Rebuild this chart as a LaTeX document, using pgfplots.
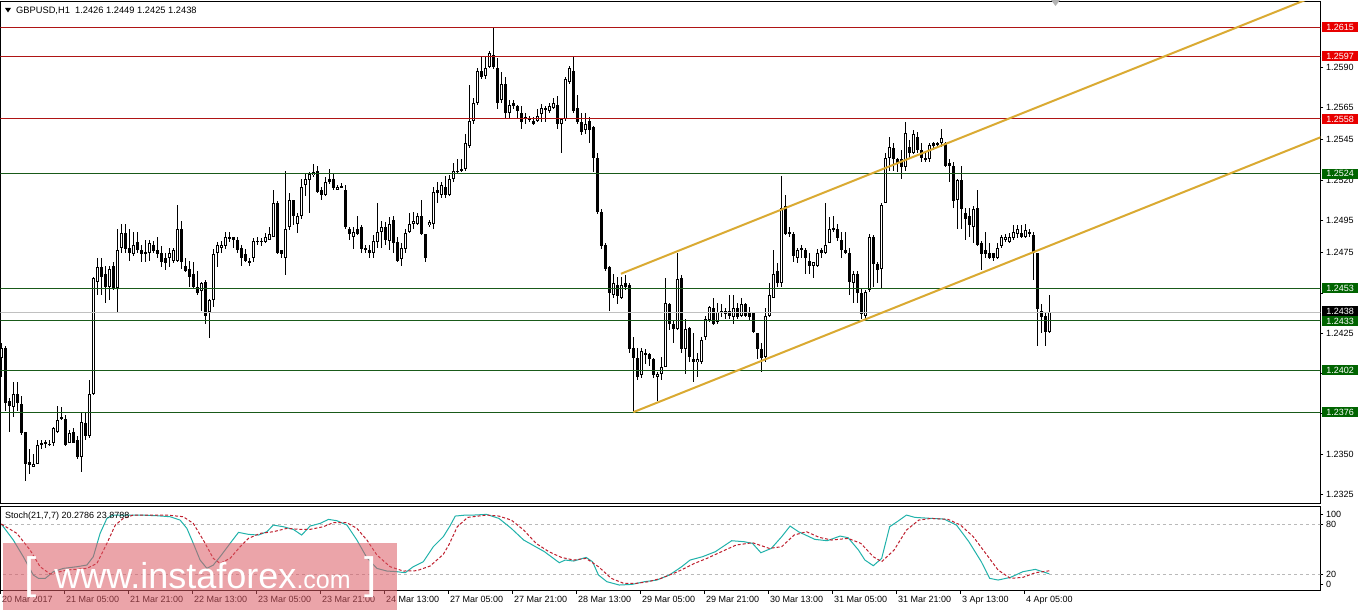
\documentclass[border=0pt]{standalone}
\usepackage{pgfplots}
\pgfplotsset{compat=1.18}
\usepackage{pgfplotstable}
\usepackage{fontspec}
\setmainfont{Liberation Sans}
\definecolor{lvred}{RGB}{175,20,20}
\definecolor{boxred}{RGB}{232,0,0}
\definecolor{lvgreen}{RGB}{25,90,25}
\definecolor{boxgreen}{RGB}{0,100,0}
\definecolor{chan}{RGB}{218,170,50}
\definecolor{stk}{RGB}{32,178,170}
\definecolor{std}{RGB}{190,30,45}
\definecolor{wm}{RGB}{220,90,100}
\definecolor{curline}{RGB}{192,192,192}

\pgfplotstableread{
i o h l c
0 1.2410 1.2419 1.2398 1.2416
1 1.2416 1.2417 1.2377 1.2382
2 1.2383 1.2385 1.2364 1.2380
3 1.2379 1.2395 1.2373 1.2387
4 1.2387 1.2395 1.2377 1.2382
5 1.2381 1.2386 1.2362 1.2363
6 1.2364 1.2364 1.2333 1.2344
7 1.2345 1.2353 1.2338 1.2343
8 1.2342 1.2350 1.2342 1.2344
9 1.2344 1.2359 1.2344 1.2356
10 1.2356 1.2359 1.2353 1.2357
11 1.2357 1.2359 1.2354 1.2357
12 1.2356 1.2359 1.2355 1.2356
13 1.2357 1.2367 1.2355 1.2366
14 1.2364 1.2380 1.2363 1.2371
15 1.2372 1.2379 1.2371 1.2373
16 1.2372 1.2374 1.2355 1.2356
17 1.2357 1.2365 1.2357 1.2363
18 1.2364 1.2366 1.2357 1.2357
19 1.2359 1.2361 1.2347 1.2348
20 1.2348 1.2376 1.2339 1.2370
21 1.2369 1.2376 1.2359 1.2361
22 1.2361 1.2396 1.2360 1.2387
23 1.2387 1.2460 1.2387 1.2459
24 1.2457 1.2472 1.2449 1.2466
25 1.2466 1.2472 1.2449 1.2460
26 1.2462 1.2467 1.2444 1.2454
27 1.2454 1.2467 1.2446 1.2465
28 1.2467 1.2469 1.2452 1.2453
29 1.2453 1.2490 1.2438 1.2477
30 1.2478 1.2493 1.2475 1.2487
31 1.2487 1.2493 1.2475 1.2477
32 1.2478 1.2490 1.2470 1.2475
33 1.2474 1.2488 1.2473 1.2480
34 1.2482 1.2488 1.2475 1.2477
35 1.2477 1.2480 1.2469 1.2474
36 1.2475 1.2483 1.2469 1.2475
37 1.2475 1.2483 1.2470 1.2481
38 1.2480 1.2482 1.2475 1.2476
39 1.2477 1.2485 1.2472 1.2474
40 1.2475 1.2479 1.2466 1.2469
41 1.2472 1.2475 1.2464 1.2469
42 1.2472 1.2478 1.2466 1.2475
43 1.2470 1.2478 1.2469 1.2477
44 1.2470 1.2505 1.2469 1.2490
45 1.2490 1.2495 1.2465 1.2469
46 1.2467 1.2472 1.2463 1.2464
47 1.2465 1.2470 1.2454 1.2460
48 1.2462 1.2469 1.2453 1.2454
49 1.2454 1.2464 1.2449 1.2450
50 1.2451 1.2457 1.2439 1.2456
51 1.2457 1.2458 1.2431 1.2436
52 1.2438 1.2446 1.2422 1.2446
53 1.2446 1.2477 1.2441 1.2474
54 1.2475 1.2482 1.2466 1.2480
55 1.2478 1.2482 1.2475 1.2480
56 1.2479 1.2488 1.2477 1.2485
57 1.2484 1.2488 1.2482 1.2485
58 1.2485 1.2485 1.2478 1.2483
59 1.2483 1.2485 1.2475 1.2477
60 1.2478 1.2480 1.2467 1.2472
61 1.2474 1.2477 1.2469 1.2470
62 1.2469 1.2472 1.2467 1.2470
63 1.2472 1.2484 1.2469 1.2482
64 1.2482 1.2485 1.2480 1.2482
65 1.2482 1.2484 1.2479 1.2482
66 1.2482 1.2487 1.2481 1.2485
67 1.2483 1.2491 1.2483 1.2487
68 1.2485 1.2514 1.2485 1.2506
69 1.2506 1.2507 1.2474 1.2475
70 1.2477 1.2477 1.2472 1.2474
71 1.2472 1.2526 1.2461 1.2490
72 1.2491 1.2512 1.2489 1.2508
73 1.2508 1.2508 1.2492 1.2498
74 1.2493 1.2500 1.2487 1.2498
75 1.2498 1.2521 1.2496 1.2516
76 1.2517 1.2524 1.2510 1.2521
77 1.2520 1.2525 1.2500 1.2524
78 1.2523 1.2530 1.2522 1.2525
79 1.2526 1.2529 1.2512 1.2513
80 1.2514 1.2516 1.2508 1.2511
81 1.2511 1.2522 1.2510 1.2519
82 1.2521 1.2527 1.2518 1.2519
83 1.2521 1.2524 1.2514 1.2515
84 1.2514 1.2517 1.2514 1.2516
85 1.2516 1.2518 1.2515 1.2516
86 1.2514 1.2517 1.2490 1.2491
87 1.2490 1.2491 1.2483 1.2487
88 1.2485 1.2491 1.2477 1.2488
89 1.2490 1.2498 1.2486 1.2487
90 1.2491 1.2492 1.2475 1.2477
91 1.2477 1.2480 1.2475 1.2478
92 1.2477 1.2480 1.2472 1.2475
93 1.2475 1.2486 1.2472 1.2482
94 1.2482 1.2506 1.2478 1.2488
95 1.2488 1.2495 1.2478 1.2491
96 1.2491 1.2494 1.2480 1.2483
97 1.2482 1.2497 1.2477 1.2493
98 1.2495 1.2498 1.2475 1.2481
99 1.2482 1.2485 1.2469 1.2470
100 1.2471 1.2481 1.2467 1.2478
101 1.2477 1.2490 1.2475 1.2487
102 1.2488 1.2500 1.2487 1.2493
103 1.2493 1.2500 1.2490 1.2495
104 1.2493 1.2500 1.2492 1.2498
105 1.2498 1.2508 1.2486 1.2487
106 1.2487 1.2487 1.2469 1.2472
107 1.2492 1.2495 1.2491 1.2494
108 1.2493 1.2516 1.2490 1.2513
109 1.2514 1.2519 1.2506 1.2512
110 1.2511 1.2519 1.2509 1.2517
111 1.2516 1.2523 1.2509 1.2511
112 1.2511 1.2523 1.2510 1.2521
113 1.2521 1.2531 1.2519 1.2526
114 1.2525 1.2533 1.2524 1.2526
115 1.2526 1.2533 1.2525 1.2527
116 1.2527 1.2549 1.2526 1.2543
117 1.2541 1.2579 1.2540 1.2557
118 1.2557 1.2571 1.2555 1.2568
119 1.2568 1.2590 1.2567 1.2588
120 1.2588 1.2597 1.2583 1.2584
121 1.2585 1.2597 1.2583 1.2590
122 1.2590 1.2600 1.2590 1.2599
123 1.2598 1.2615 1.2589 1.2590
124 1.2590 1.2596 1.2564 1.2568
125 1.2570 1.2587 1.2568 1.2580
126 1.2580 1.2584 1.2559 1.2562
127 1.2562 1.2570 1.2559 1.2567
128 1.2568 1.2570 1.2564 1.2566
129 1.2566 1.2567 1.2559 1.2563
130 1.2562 1.2566 1.2552 1.2556
131 1.2559 1.2562 1.2555 1.2559
132 1.2558 1.2560 1.2556 1.2558
133 1.2557 1.2559 1.2554 1.2555
134 1.2557 1.2564 1.2556 1.2560
135 1.2561 1.2567 1.2556 1.2565
136 1.2564 1.2566 1.2556 1.2565
137 1.2563 1.2568 1.2562 1.2566
138 1.2565 1.2571 1.2564 1.2568
139 1.2567 1.2572 1.2552 1.2555
140 1.2555 1.2559 1.2537 1.2558
141 1.2558 1.2584 1.2557 1.2583
142 1.2581 1.2591 1.2580 1.2590
143 1.2588 1.2597 1.2562 1.2563
144 1.2565 1.2573 1.2555 1.2556
145 1.2556 1.2562 1.2548 1.2550
146 1.2551 1.2562 1.2549 1.2555
147 1.2557 1.2559 1.2543 1.2551
148 1.2553 1.2554 1.2525 1.2534
149 1.2534 1.2537 1.2499 1.2500
150 1.2500 1.2502 1.2477 1.2479
151 1.2480 1.2481 1.2464 1.2465
152 1.2466 1.2467 1.2439 1.2450
153 1.2449 1.2462 1.2447 1.2456
154 1.2455 1.2460 1.2443 1.2448
155 1.2447 1.2460 1.2446 1.2455
156 1.2456 1.2461 1.2452 1.2454
157 1.2455 1.2456 1.2413 1.2415
158 1.2416 1.2423 1.2376 1.2410
159 1.2410 1.2416 1.2396 1.2398
160 1.2399 1.2416 1.2397 1.2414
161 1.2413 1.2415 1.2406 1.2412
162 1.2412 1.2413 1.2405 1.2409
163 1.2409 1.2410 1.2397 1.2399
164 1.2398 1.2401 1.2383 1.2400
165 1.2400 1.2410 1.2396 1.2404
166 1.2404 1.2459 1.2404 1.2444
167 1.2443 1.2444 1.2427 1.2431
168 1.2431 1.2433 1.2419 1.2428
169 1.2428 1.2475 1.2427 1.2459
170 1.2459 1.2461 1.2413 1.2415
171 1.2415 1.2434 1.2400 1.2428
172 1.2428 1.2429 1.2407 1.2410
173 1.2409 1.2425 1.2395 1.2407
174 1.2407 1.2413 1.2398 1.2409
175 1.2407 1.2423 1.2406 1.2421
176 1.2423 1.2436 1.2421 1.2434
177 1.2433 1.2442 1.2432 1.2441
178 1.2441 1.2447 1.2430 1.2431
179 1.2432 1.2444 1.2431 1.2438
180 1.2439 1.2443 1.2435 1.2438
181 1.2439 1.2441 1.2434 1.2437
182 1.2439 1.2449 1.2434 1.2436
183 1.2435 1.2449 1.2431 1.2441
184 1.2441 1.2444 1.2434 1.2435
185 1.2436 1.2447 1.2435 1.2443
186 1.2443 1.2444 1.2435 1.2436
187 1.2438 1.2441 1.2433 1.2435
188 1.2438 1.2438 1.2425 1.2426
189 1.2425 1.2425 1.2409 1.2415
190 1.2415 1.2419 1.2401 1.2410
191 1.2410 1.2441 1.2407 1.2436
192 1.2436 1.2456 1.2435 1.2449
193 1.2447 1.2477 1.2447 1.2462
194 1.2464 1.2469 1.2454 1.2456
195 1.2456 1.2523 1.2454 1.2503
196 1.2504 1.2511 1.2486 1.2487
197 1.2488 1.2491 1.2485 1.2487
198 1.2487 1.2488 1.2469 1.2473
199 1.2472 1.2478 1.2469 1.2477
200 1.2477 1.2480 1.2472 1.2478
201 1.2477 1.2478 1.2462 1.2472
202 1.2470 1.2475 1.2462 1.2467
203 1.2467 1.2469 1.2459 1.2469
204 1.2467 1.2477 1.2466 1.2475
205 1.2477 1.2478 1.2472 1.2475
206 1.2475 1.2506 1.2474 1.2480
207 1.2481 1.2497 1.2481 1.2490
208 1.2490 1.2498 1.2488 1.2490
209 1.2490 1.2493 1.2482 1.2484
210 1.2483 1.2488 1.2472 1.2477
211 1.2477 1.2488 1.2474 1.2475
212 1.2475 1.2478 1.2449 1.2457
213 1.2456 1.2464 1.2444 1.2462
214 1.2462 1.2464 1.2444 1.2450
215 1.2450 1.2453 1.2434 1.2437
216 1.2436 1.2452 1.2434 1.2451
217 1.2452 1.2487 1.2451 1.2485
218 1.2485 1.2486 1.2454 1.2468
219 1.2468 1.2469 1.2456 1.2464
220 1.2465 1.2506 1.2453 1.2505
221 1.2506 1.2537 1.2506 1.2534
222 1.2534 1.2547 1.2526 1.2541
223 1.2540 1.2543 1.2526 1.2533
224 1.2533 1.2534 1.2525 1.2531
225 1.2533 1.2539 1.2521 1.2528
226 1.2528 1.2556 1.2526 1.2549
227 1.2541 1.2545 1.2534 1.2537
228 1.2537 1.2551 1.2536 1.2549
229 1.2547 1.2550 1.2537 1.2539
230 1.2539 1.2543 1.2531 1.2534
231 1.2534 1.2538 1.2531 1.2533
232 1.2533 1.2543 1.2531 1.2542
233 1.2543 1.2544 1.2539 1.2541
234 1.2543 1.2544 1.2540 1.2542
235 1.2543 1.2552 1.2541 1.2546
236 1.2543 1.2544 1.2528 1.2529
237 1.2531 1.2533 1.2519 1.2529
238 1.2529 1.2531 1.2503 1.2507
239 1.2508 1.2521 1.2490 1.2520
240 1.2520 1.2529 1.2490 1.2502
241 1.2500 1.2503 1.2483 1.2496
242 1.2498 1.2503 1.2485 1.2492
243 1.2491 1.2504 1.2481 1.2502
244 1.2503 1.2514 1.2479 1.2480
245 1.2481 1.2482 1.2464 1.2474
246 1.2477 1.2488 1.2472 1.2474
247 1.2475 1.2481 1.2471 1.2472
248 1.2475 1.2475 1.2470 1.2472
249 1.2472 1.2481 1.2471 1.2478
250 1.2479 1.2486 1.2478 1.2485
251 1.2483 1.2487 1.2482 1.2485
252 1.2482 1.2487 1.2481 1.2485
253 1.2484 1.2492 1.2483 1.2488
254 1.2487 1.2492 1.2484 1.2490
255 1.2487 1.2492 1.2484 1.2485
256 1.2485 1.2493 1.2484 1.2489
257 1.2488 1.2490 1.2485 1.2487
258 1.2486 1.2488 1.2458 1.2475
259 1.2475 1.2475 1.2417 1.2440
260 1.2439 1.2443 1.2425 1.2435
261 1.2436 1.2438 1.2417 1.2426
262 1.2426 1.2449 1.2425 1.2438
}\candles

\pgfplotstableread{
i v
0 80
3 60.8
5.5 40.8
8 18.8
9.3 14.8
11 14.8
13 22.8
15.5 26.8
18.9 28.8
21.4 30.8
23 40.8
24.7 68.8
26.4 86.8
28 90.8
34.7 90.8
38.9 90
42.2 88.8
44.7 84.8
46.4 74.8
48 56.8
49.7 36.8
51.4 26.8
53 30.8
54.7 40.8
57.2 56.8
59.3 70
61.8 67.6
64.3 66.8
66.4 70.8
68 78.8
70.5 76.8
73 73.6
75.1 66.8
77.2 77.6
79.7 80.8
81.8 85.6
83.9 84
86.4 78.8
88.9 60.8
91.4 39.6
93.9 26.8
96.4 23.6
98.9 22.8
101 21.6
103 28.8
105.5 34.8
108 52.8
110.5 64.8
112.2 78
113.5 89.6
116.1 90.8
118.1 90.8
121.3 91.6
124.4 86.8
127.5 74.8
130.6 60.8
135.8 46.8
139.5 33.6
141 36.8
143.1 35.6
146.2 40
147.8 34.8
149.3 18.8
151.4 10.8
154.5 6.8
157.7 7.6
160.8 10.8
163.9 12.8
167 18.8
170.1 28.8
172.2 36.8
175.3 40.8
178.5 46.8
182.6 60
185.7 58.8
187.8 56.8
189.9 45.6
192.5 50.8
195.1 64.8
197.2 77.6
199.3 70.8
203.4 61.6
206.5 60
209.7 65.6
211.7 63.6
214.3 48.8
215.9 36.8
218 30
220.1 38.8
222.1 76.8
224.2 83.6
226.3 90.8
228.4 88
232.5 86.8
235.7 86
238.8 78.8
241.9 58.8
245 34.8
247.1 14.8
249.2 12.8
252.3 16
255.4 22.8
258.5 25.6
262 20.28
}\stochk

\pgfplotstableread{
i v
0 80
3.9 68.8
7.2 48.8
9.7 28.8
12.2 20
16.4 24.8
21.4 26.8
23.9 32.8
26.4 56.8
28.5 78.8
30.5 86.8
33 90.8
41.4 90.8
45.5 88.8
48 80.8
50.5 60.8
53 38.8
54.7 32.8
57.2 38.8
59.7 52.8
61.8 62.8
64.7 68.8
68 70.8
71.4 74.8
74.7 73.6
77.2 73.6
80.5 76.8
83 81.6
86.4 81.6
88.9 74.8
91.4 60.8
93.9 42.8
97.2 28.8
100.5 23.6
103.9 24
107.2 29.6
110.5 43.6
112 56
114 76.8
116.6 88
121.3 90.8
124.4 89.6
127.5 84.8
130.6 72.8
133.7 56.8
136.9 46.8
140 40
143.1 36.8
146.2 38.8
149.3 28.8
152.5 14.8
155.6 8.8
158.7 8.8
161.8 10.8
164.9 14.8
169.1 22.8
173.3 32.8
176.4 38.8
179.5 45.6
183.7 54.8
187.8 57.6
192 50.8
195.1 52.8
198.2 66.8
201.3 70.8
204.5 64
207.6 60.8
211.7 62.8
214.9 56.8
218 40.8
220.1 34.8
223.2 48.8
226.3 72.8
229.4 84.8
232.5 86.8
236.7 85.6
239.8 78.8
243 64.8
246.1 44.8
249.2 24.8
252.3 14.8
255.4 16
258.5 21.6
262 23.88
}\stochd

\newcommand{\tfont}{\fontsize{9bp}{10bp}\selectfont}

\begin{document}
\begin{tikzpicture}
\useasboundingbox (0,0) rectangle (1361bp,612bp);
\fill[white] (0,0) rectangle (1361bp,612bp);

% ---------------- main price panel ----------------
\begin{axis}[
  at={(0.5bp,108bp)}, anchor=south west,
  width=1320bp, height=502bp, scale only axis,
  xmin=-0.2, xmax=329.8,
  ymin=1.23190, ymax=1.26306,
  clip mode=individual,
  axis line style={black, line width=1bp},
  xtick=\empty,
  ytick={1.2325,1.2350,1.2375,1.2400,1.2425,1.2450,1.2475,1.2495,1.2520,1.2545,1.2565,1.2590},
  yticklabels={1.2325,1.2350,,,1.2425,,1.2475,1.2495,1.2520,1.2545,1.2565,1.2590},
  ytick pos=right, yticklabel pos=right,
  tick align=outside, major tick length=3bp,
  tick style={black, line width=0.8bp},
  yticklabel style={font=\tfont, inner xsep=0pt, xshift=2.5bp},
]
% wicks
\addplot[draw=none, mark=none, forget plot,
  error bars/.cd, y dir=both, y explicit, error mark=none,
  error bar style={draw=black, line width=1bp}]
  table[x=i, y expr={(\thisrow{h}+\thisrow{l})/2}, y error expr={(\thisrow{h}-\thisrow{l})/2}] {\candles};
% bodies
\addplot[draw=none, mark=none, forget plot,
  error bars/.cd, y dir=both, y explicit, error mark=none,
  error bar style={draw=black, line width=3bp}]
  table[x=i, y expr={(\thisrow{o}+\thisrow{c})/2}, y error expr={max(abs(\thisrow{c}-\thisrow{o})/2,0.00003)}] {\candles};
% hollow interior of rising candles
\addplot[draw=none, mark=none, forget plot,
  error bars/.cd, y dir=both, y explicit, error mark=none,
  error bar style={draw=white, line width=1.1bp}]
  table[x=i, y expr={(\thisrow{o}+\thisrow{c})/2}, y error expr={(\thisrow{c}>\thisrow{o})*max((\thisrow{c}-\thisrow{o})/2-0.000062,0)}] {\candles};

% horizontal levels
\addplot[lvred, line width=1bp, forget plot] coordinates {(-1,1.2615) (331,1.2615)};
\addplot[lvred, line width=1bp, forget plot] coordinates {(-1,1.2597) (331,1.2597)};
\addplot[lvred, line width=1bp, forget plot] coordinates {(-1,1.2558) (331,1.2558)};
\addplot[lvgreen, line width=1bp, forget plot] coordinates {(-1,1.2524) (331,1.2524)};
\addplot[lvgreen, line width=1bp, forget plot] coordinates {(-1,1.2453) (331,1.2453)};
\addplot[curline, line width=1bp, forget plot] coordinates {(-1,1.2438) (331,1.2438)};
\addplot[lvgreen, line width=1bp, forget plot] coordinates {(-1,1.2433) (331,1.2433)};
\addplot[lvgreen, line width=1bp, forget plot] coordinates {(-1,1.2402) (331,1.2402)};
\addplot[lvgreen, line width=1bp, forget plot] coordinates {(-1,1.2376) (331,1.2376)};

% channel
\addplot[chan, line width=2bp, forget plot] coordinates {(154.9,1.24619) (330,1.26358)};
\addplot[chan, line width=2bp, forget plot] coordinates {(158,1.2376) (330,1.25468)};

\coordinate (R1) at (axis cs:329.8,1.2615);
\coordinate (R2) at (axis cs:329.8,1.2597);
\coordinate (R3) at (axis cs:329.8,1.2558);
\coordinate (G1) at (axis cs:329.8,1.2524);
\coordinate (G2) at (axis cs:329.8,1.2453);
\coordinate (CP) at (axis cs:329.8,1.2438);
\coordinate (G3) at (axis cs:329.8,1.2433);
\coordinate (G4) at (axis cs:329.8,1.2402);
\coordinate (G5) at (axis cs:329.8,1.2376);
\end{axis}

% price boxes
\tikzset{pbox/.style={anchor=west, xshift=1.5bp, text=white, inner sep=0pt,
  minimum width=36bp, minimum height=10bp, font=\tfont}}
\node[pbox, fill=boxred] at (R1) {1.2615};
\node[pbox, fill=boxred] at (R2) {1.2597};
\node[pbox, fill=boxred] at (R3) {1.2558};
\node[pbox, fill=boxgreen] at (G1) {1.2524};
\node[pbox, fill=boxgreen] at (G2) {1.2453};
\node[pbox, fill=boxgreen] at (G4) {1.2402};
\node[pbox, fill=boxgreen] at (G5) {1.2376};
\node[pbox, fill=black, yshift=1bp] at (CP) {1.2438};
\node[pbox, fill=boxgreen, yshift=-1bp] at (G3) {1.2433};

% ---------------- stochastic panel ----------------
\begin{axis}[
  at={(0.5bp,21.5bp)}, anchor=south west,
  width=1320bp, height=84bp, scale only axis,
  xmin=-0.2, xmax=329.8,
  ymin=0.24, ymax=101.08,
  clip mode=individual,
  axis line style={black, line width=1bp},
  ytick={7.5,20,80,92}, yticklabels={0,20,80,100},
  ytick pos=right, yticklabel pos=right,
  xtick={-0.2,15.8,...,255.8},
  xticklabels={20 Mar 2017,21 Mar 05:00,21 Mar 21:00,22 Mar 13:00,23 Mar 05:00,23 Mar 21:00,24 Mar 13:00,27 Mar 05:00,27 Mar 21:00,28 Mar 13:00,29 Mar 05:00,29 Mar 21:00,30 Mar 13:00,31 Mar 05:00,31 Mar 21:00,3 Apr 13:00,4 Apr 05:00},
  xtick pos=bottom,
  tick align=outside, major tick length=3bp,
  tick style={black, line width=0.8bp},
  yticklabel style={font=\tfont, inner xsep=0pt, xshift=2.5bp},
  xticklabel style={font=\tfont, anchor=north west, inner sep=0pt, xshift=1.5bp, yshift=-2.5bp},
]
\addplot[gray!55, dashed, line width=0.8bp, forget plot] coordinates {(-1,80) (331,80)};
\addplot[gray!55, dashed, line width=0.8bp, forget plot] coordinates {(-1,20) (331,20)};
\addplot[stk, line width=1bp, mark=none, forget plot] table[x=i, y=v] {\stochk};
\addplot[std, line width=1bp, mark=none, dash pattern=on 3bp off 2bp, forget plot] table[x=i, y=v] {\stochd};
\end{axis}

% titles
\fill[black] (5bp,604bp) -- (11bp,604bp) -- (8bp,599.5bp) -- cycle;
\node[anchor=west, inner sep=0pt, font=\fontsize{9.3bp}{10bp}\selectfont] at (16bp,601bp) {GBPUSD,H1\ \ 1.2426 1.2449 1.2425 1.2438};
\node[anchor=west, inner sep=0pt, font=\tfont] at (5bp,96bp) {Stoch(21,7,7) 20.2786 23.8788};
\fill[gray!60] (1051bp,612bp) -- (1060bp,612bp) -- (1055.5bp,606bp) -- cycle;

% watermark
\fill[wm, opacity=0.55] (3bp,2bp) rectangle (397bp,69bp);
\node[anchor=base west, inner sep=0pt, text=white] at (24bp,24bp)
  {\fontsize{44bp}{44bp}\selectfont[\hspace{18bp}\fontsize{36bp}{36bp}\selectfont www.instaforex\fontsize{25bp}{25bp}\selectfont.com\hspace{14bp}\fontsize{44bp}{44bp}\selectfont]};
\end{tikzpicture}
\end{document}
